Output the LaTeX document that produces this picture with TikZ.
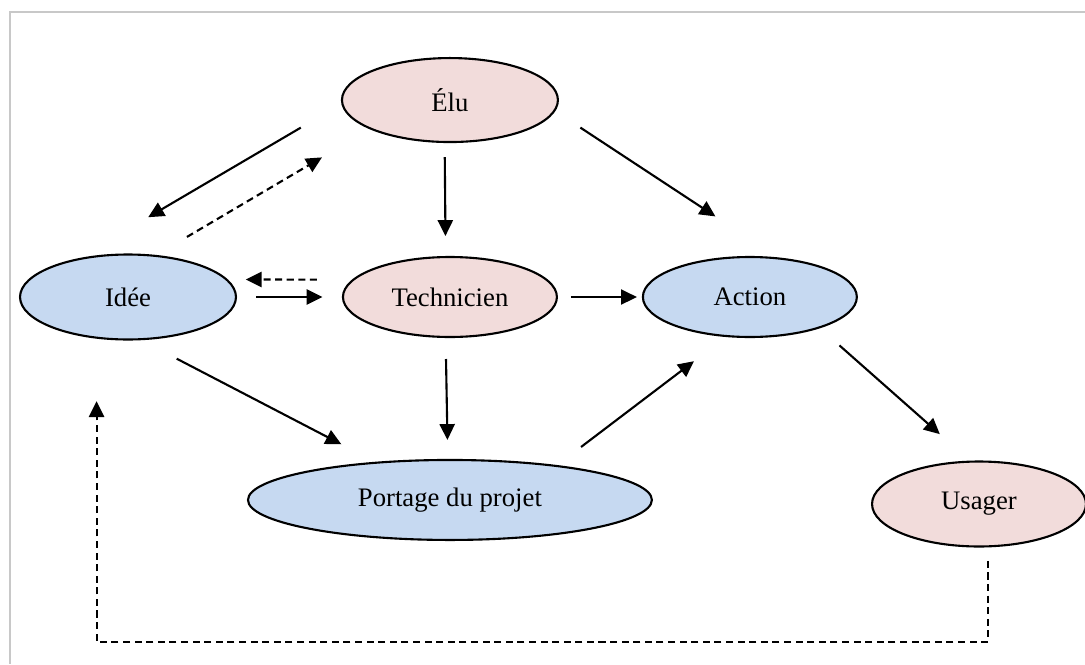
\documentclass[tikz,border=0pt]{standalone}
\usepackage{fontspec}
\setmainfont{Liberation Serif}
\usepackage{tikz}
\usetikzlibrary{shapes,arrows.meta}
\definecolor{rose}{HTML}{F2DCDB}
\definecolor{bleu}{HTML}{C6D9F1}
\definecolor{cadre}{HTML}{C8C8C8}

\begin{document}
\begin{tikzpicture}[x=0.02cm, y=0.02cm,
    noeud/.style={ellipse, draw, line width=1.2pt, text centered, font=\fontsize{15.2}{18}\selectfont},
    fleche/.style={draw, line width=1.2pt, -{Triangle[length=9pt, width=8.6pt]}},
    tirets/.style={dash pattern=on 4pt off 2.6pt}]
    \useasboundingbox (0,0) rectangle (1085,664);
    \path[draw, cadre, line width=1.1pt](1085,652)--(10,652)--(10,0);
	\node[noeud, fill=bleu, minimum width=4.32cm, minimum height=1.7cm](idee) at (128,367){Idée};
    \node[noeud, fill=rose, minimum width=4.28cm, minimum height=1.6cm, node distance=6.44cm, right of=idee](tech){Technicien};
    \node[noeud, fill=bleu, minimum width=4.28cm, minimum height=1.6cm, node distance=6cm, right of=tech](action){Action};
    \node[noeud, fill=rose, minimum width=4.32cm, minimum height=1.68cm, node distance=3.94cm, above of=tech](elu){Élu};
    \node[noeud, fill=bleu, minimum width=8.08cm, minimum height=1.6cm, node distance=4.06cm, below of=tech](portage){Portage du projet};
    \node[noeud, fill=rose, minimum width=4.28cm, minimum height=1.7cm](usager) at (979,160){Usager};
    \coordinate (bas) at (0,22);
    \path[fleche, shorten <=0.94cm, shorten >=1.62cm](elu.182)--(idee.142);
    \path[fleche, tirets, shorten <=0.71cm, shorten >=1.11cm](idee.56)--(elu.200);
    \path[fleche, shorten <=0.28cm, shorten >=0.40cm](elu.263)--(tech.96);
    \path[fleche, shorten <=0.60cm, shorten >=1.49cm](elu.354)--(action.55);
    \path[fleche, tirets, shorten <=0.70cm, shorten >=0.36cm](tech.170)--(idee.10);
    \path[fleche, shorten <=0.38cm, shorten >=0.39cm](idee.east)--(tech.west);
    \path[fleche, shorten <=0.26cm, shorten >=0.10cm](tech.east)--(action.west);
    \path[fleche, shorten <=0.80cm, shorten >=0.76cm](idee.287)--(portage.153);
    \path[fleche, shorten <=0.42cm, shorten >=0.38cm](tech.264)--(portage.93);
    \path[fleche, shorten <=0.60cm, shorten >=0.80cm](portage.18)--(action.239);
    \path[fleche, shorten <=0.52cm, shorten >=0.80cm](action.336)--(usager.102);
    \path[fleche, tirets, shorten <=0.27cm, shorten >=1.25cm](usager.282)--(usager.282 |- bas)--(idee.233 |- bas)--(idee.233);
\end{tikzpicture}
\end{document}
